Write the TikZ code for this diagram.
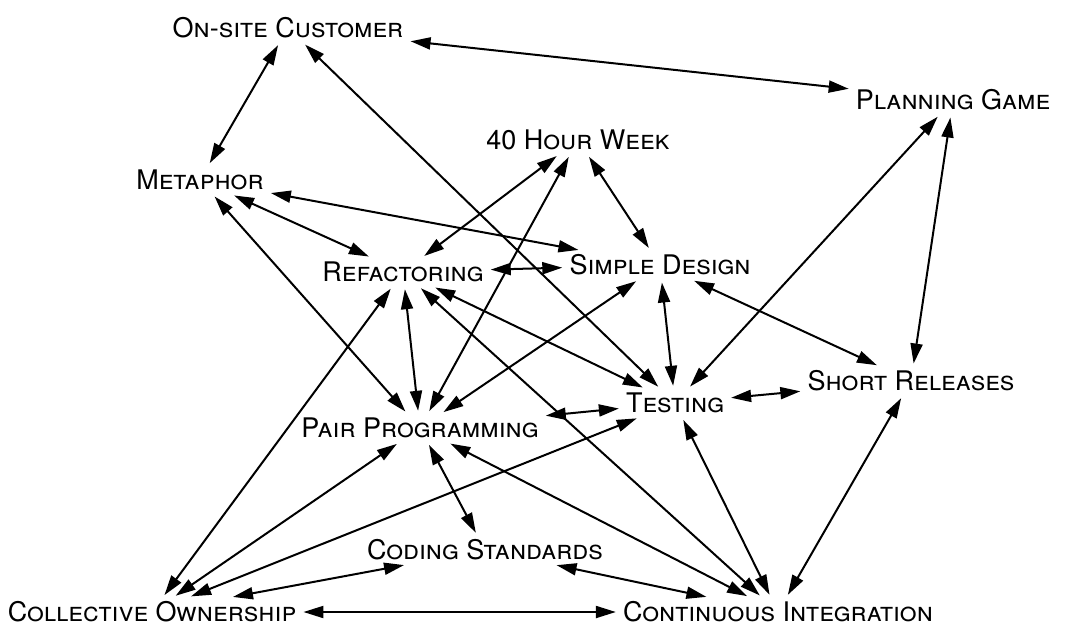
\documentclass[tikz,border=0pt]{standalone}
\usepackage{fontspec}
\setmainfont{TeX Gyre Heros}
\usetikzlibrary{arrows.meta}

\tikzset{
	practice/.style = {inner sep = 4pt, font = \fontsize{27}{30}\selectfont\scshape},
	link/.style = {{Triangle[length = 20pt, width = 12pt]}-{Triangle[length = 20pt, width = 12pt]}, line width = 2pt, shorten <= 3pt, shorten >= 3pt}
}

\begin{document}
\begin{tikzpicture}[x = 1pt, y = -1pt]
			\useasboundingbox (0,0) rectangle (1073,633);

			\begin{scope}
				\node [practice] (Customer) at (288,28) {On-site Customer};
				\node [practice] (Planning) at (953,100) {Planning Game};
				\node [practice] (Week) at (578,140) {40 Hour Week};
				\node [practice] (Metaphor) at (200,180) {Metaphor};
				\node [practice] (Refactoring) at (403,272) {Refactoring};
				\node [practice] (Design) at (660,265) {Simple Design};
				\node [practice] (Releases) at (911,381) {Short Releases};
				\node [practice] (Testing) at (675,403) {Testing};
				\node [practice] (Pair) at (420,428) {Pair Programming};
				\node [practice] (Standards) at (485,550) {Coding Standards};
				\node [practice] (Ownership) at (152,612) {Collective Ownership};
				\node [practice] (Integration) at (778,612) {Continuous Integration};
			\end{scope}

			\begin{scope}
				\draw [link] (Customer) -- (Planning);
				\draw [link] (Customer) -- (Metaphor);
				\draw [link] (Customer) -- (Testing);
				\draw [link] (Planning) -- (Testing);
				\draw [link] (Planning) -- (Releases);
				\draw [link] (Week) -- (Refactoring);
				\draw [link] (Week) -- (Pair);
				\draw [link] (Week) -- (Design);
				\draw [link] (Metaphor) -- (Refactoring);
				\draw [link] (Metaphor) -- (Design);
				\draw [link] (Metaphor) -- (Pair);
			\end{scope}

			\begin{scope}
				\draw [link] (Refactoring) -- (Design);
				\draw [link] (Refactoring) -- (Pair);
				\draw [link] (Refactoring) -- (Testing);
				\draw [link] (Refactoring) -- (Integration);
				\draw [link] (Refactoring) -- (Ownership);
				\draw [link] (Design) -- (Pair);
				\draw [link] (Design) -- (Testing);
				\draw [link] (Design) -- (Releases);
				\draw [link] (Testing) -- (Releases);
				\draw [link] (Testing) -- (Pair);
				\draw [link] (Testing) -- (Integration);
				\draw [link] (Testing) -- (Ownership);
				\draw [link] (Releases) -- (Integration);
			\end{scope}

			\begin{scope}
				\draw [link] (Pair) -- (Standards);
				\draw [link] (Pair) -- (Ownership);
				\draw [link] (Pair) -- (Integration);
				\draw [link] (Standards) -- (Ownership);
				\draw [link] (Standards) -- (Integration);
				\draw [link] (Ownership) -- (Integration);
			\end{scope}
		\end{tikzpicture}
\end{document}
